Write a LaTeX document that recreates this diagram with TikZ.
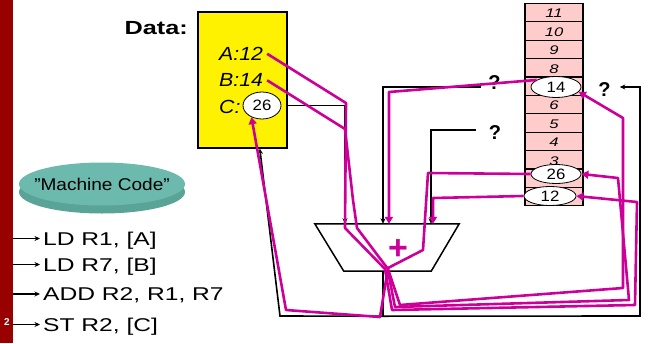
\documentclass[tikz,border=0pt]{standalone}
\usepackage{fontspec}
\setmainfont{Liberation Sans}
\newfontfamily\midfont{Liberation Sans}[FakeStretch=1.12]
\newfontfamily\widefont{Liberation Sans}[FakeStretch=1.33]
\usetikzlibrary{positioning, arrows.meta, shapes.geometric, shadows}

\definecolor{barred}{HTML}{990000}
\definecolor{flowpink}{HTML}{CC0099}
\definecolor{regpink}{HTML}{FFCCCC}
\definecolor{mcteal}{HTML}{6CBAAE}
\definecolor{mcshade}{HTML}{5AA497}

\begin{document}
\begin{tikzpicture}[
    x=1pt, y=-1pt,
    mem/.style={draw, line width=1.6pt, fill=yellow, minimum width=89pt, minimum height=136pt, inner sep=0pt},
    cell/.style={draw, line width=1.2pt, fill=regpink, minimum width=58pt, minimum height=18.4pt, inner sep=0pt},
    idx/.style={font=\widefont\itshape\fontsize{12.5}{13}\selectfont, inner sep=0pt},
    val/.style={ellipse, draw, line width=0.8pt, fill=white, inner sep=0pt, font=\midfont\fontsize{15}{16}\selectfont},
    lbl/.style={font=\midfont\itshape\fontsize{19}{21}\selectfont, inner sep=0pt, anchor=west},
    qm/.style={font=\bfseries\fontsize{20}{22}\selectfont, inner sep=0pt},
    code/.style={font=\widefont\fontsize{18.5}{21}\selectfont, inner sep=0pt, anchor=west, text height=13.2pt, text depth=0pt},
    arr/.style={line width=1.6pt, -{Stealth[length=5.5pt, width=5pt]}},
    flow/.style={draw=flowpink, line width=2.6pt, line join=round, -{Triangle[length=7pt, width=8pt]}}
  ]
  \useasboundingbox (0,0) rectangle (648,343);

  % slide bar and program
  \node[fill=barred, minimum width=12.5pt, minimum height=343pt, inner sep=0pt, anchor=north west] (bar) at (0,0) {};
  \node[font=\bfseries\fontsize{10}{11}\selectfont, text=white, inner sep=0pt] (pg) at (7,322) {2};
  \node[ellipse, fill=mcteal, minimum width=166pt, minimum height=43pt, inner xsep=-14pt, inner ysep=0pt,
        font=\midfont\fontsize{17}{19}\selectfont,
        drop shadow={shadow xshift=0pt, shadow yshift=-8pt, fill=mcshade, opacity=1}] (mc) at (102,184) {”Machine Code”};
  \node[code] (l1) at (43,238.5) {LD R1, [A]};
  \node[code] (l2) at (43,264.5) {LD R7, [B]};
  \node[code] (l3) at (43,294) {ADD R2, R1, R7};
  \node[code] (l4) at (43,324.5) {ST R2, [C]};
  \foreach \n in {l1,l2,l3,l4}
    \draw[arr] (bar.east |- \n.west) -- ([xshift=-3pt]\n.west);

  % data memory
  \node[mem, anchor=north west] (data) at (197,11) {};
  \node[font=\widefont\bfseries\fontsize{19}{21}\selectfont, inner sep=0pt, anchor=east] (datalbl) at (188,28.5) {Data:};
  \node[lbl] (vala) at (219,53.8) {A:12};
  \node[lbl] (valb) at (219,80.3) {B:14};
  \node[lbl] (valc) at (219,106.5) {C:};
  \node[val, minimum width=38pt, minimum height=27pt] (memc) at (262,105.5) {26};

  % register file
  \foreach \i in {1,...,11}
    \node[cell] (r\i) at (554,{205.7-(\i-0.5)*18.4}) {};
  \foreach \i in {3,4,5,6,8,9,10,11}
    \node[idx] at ([yshift=-1pt]r\i) {\i};
  \node[val, minimum width=50pt, minimum height=21pt] (reg14) at (556,87) {14};
  \node[val, minimum width=50pt, minimum height=19pt] (reg26) at (556,174) {26};
  \node[val, minimum width=52pt, minimum height=19pt] (reg12) at (550,196) {12};

  % adder
  \node[minimum width=144pt, minimum height=47pt, inner sep=0pt] (alu) at (387,247.5) {};
  \draw[line width=1.5pt] (alu.north west) -- (alu.north east) -- ([xshift=-28pt]alu.south east) -- ([xshift=29pt]alu.south west) -- cycle;
  \node[font=\bfseries\fontsize{34}{34}\selectfont, text=flowpink, inner sep=0pt] (plus) at (398,250) {+};
  \node[qm] (q1) at (494.5,83) {?};
  \node[qm] (q2) at (495,132.5) {?};
  \node[qm] (q3) at (604.5,89.5) {?};

  % black wires
  \draw[arr] (data.east |- memc) -| ([xshift=-42pt]alu.north);
  \draw[arr] ([shift={(-7pt,-4pt)}]q1.west) -| ([xshift=-4pt]alu.north);
  \draw[arr] ([shift={(-13pt,2.5pt)}]q2.west) -| ([xshift=44pt]alu.north);
  \draw[line width=1.6pt] ([xshift=-4pt]alu.south) -- ++(0,45) coordinate (bot);
  \coordinate (botl) at (280,316);
  \coordinate (botr) at (640,316);
  \draw[arr] (bot) -- (botl) -- ([xshift=17.5pt]data.south);
  \draw[arr] (bot) -- (botr) |- ([shift={(9pt,2.5pt)}]q3.east);

  % magenta data flow
  \draw[flow] ([xshift=4pt]vala.east) -- (346,103) -- (345,228) -- (385,269) -- (392,310) -- (635,305) -- (637,202) -- (reg12.east);
  \draw[flow] ([xshift=4pt]valb.east) -- (345,129) -- (353,200) -- (357,228) -- (388,269) -- (400,305) -- (623,288) -- (623,118) -- (reg14.-12);
  \draw[flow] ([xshift=1pt]alu.south) -- (395,307) -- (629,300) -- (618,178) -- (reg26.east);
  \draw[flow] (reg26.west) -- (428,173) -- (423,250) -- (388,268) -- (380,317) -- (286,310) -- (memc.228);
  \draw[flow] (reg14.160) -- (389,92) -- ([xshift=2pt]alu.north);
  \draw[flow] (reg12.west) -- (433,198) -- ([xshift=46pt]alu.north);
\end{tikzpicture}
\end{document}
